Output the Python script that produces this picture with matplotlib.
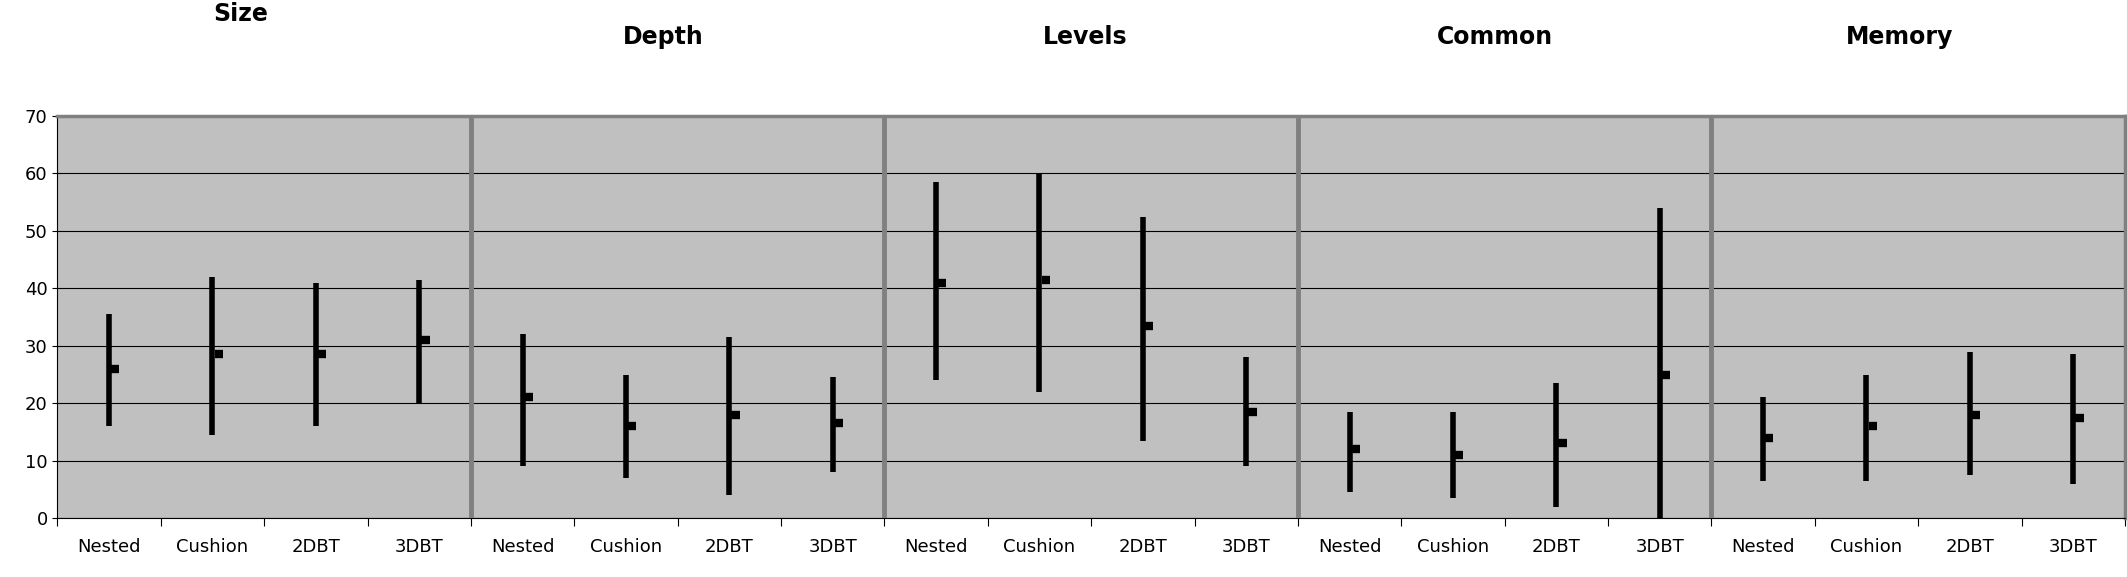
import matplotlib.pyplot as plt
import numpy as np

groups = ['Size', 'Depth', 'Levels', 'Common', 'Memory']
methods = ['Nested', 'Cushion', '2DBT', '3DBT']
low = [16, 14.5, 16, 20,  9, 7, 4, 8,  24, 22, 13.5, 9,  4.5, 3.5, 2, -1,  6.5, 6.5, 7.5, 6]
high = [35.5, 42, 41, 41.5,  32, 25, 31.5, 24.5,  58.5, 60, 52.5, 28,  18.5, 18.5, 23.5, 54,  21, 25, 29, 28.5]
mean = [26, 28.5, 28.5, 31,  21, 16, 18, 16.5,  41, 41.5, 33.5, 18.5,  12, 11, 13, 25,  14, 16, 18, 17.5]

fig = plt.figure(figsize=(21.27, 5.77), dpi=100)
ax = fig.add_axes([0.027, 0.102, 0.972, 0.697])
ax.set_facecolor('#C0C0C0')
n = len(low)
x = np.arange(n)
ax.vlines(x, low, high, color='black', linewidth=4, zorder=3)
ax.hlines(mean, x + 0.02, x + 0.1, color='black', linewidth=6, zorder=3)
ax.set_xlim(-0.5, n - 0.5)
ax.set_ylim(0, 70)
ax.set_yticks(range(0, 71, 10))
ax.yaxis.grid(True, color='black', linewidth=0.8)
ax.set_axisbelow(True)
ax.set_xticks(np.arange(-0.5, n, 1))
ax.set_xticklabels([])
ax.set_xticks(x, minor=True)
ax.set_xticklabels(methods * len(groups), minor=True, fontsize=13)
ax.tick_params(axis='x', which='minor', length=0, pad=14)
ax.tick_params(axis='x', which='major', length=6)
ax.tick_params(axis='y', labelsize=13)
for b in range(1, len(groups)):
    ax.axvline(b * 4 - 0.5, color='#808080', linewidth=3.5, zorder=4)
for s in ['top', 'right']:
    ax.spines[s].set_color('#808080')
    ax.spines[s].set_linewidth(2.5)
ax.spines['left'].set_color('black')
ax.spines['bottom'].set_color('black')

title_x = [0.113, 0.312, 0.51, 0.703, 0.893]
title_y = [0.976, 0.936, 0.936, 0.936, 0.936]
for g, tx, ty in zip(groups, title_x, title_y):
    fig.text(tx, ty, g, ha='center', va='center', fontsize=17, fontweight='bold')

fig.savefig('out.png')
